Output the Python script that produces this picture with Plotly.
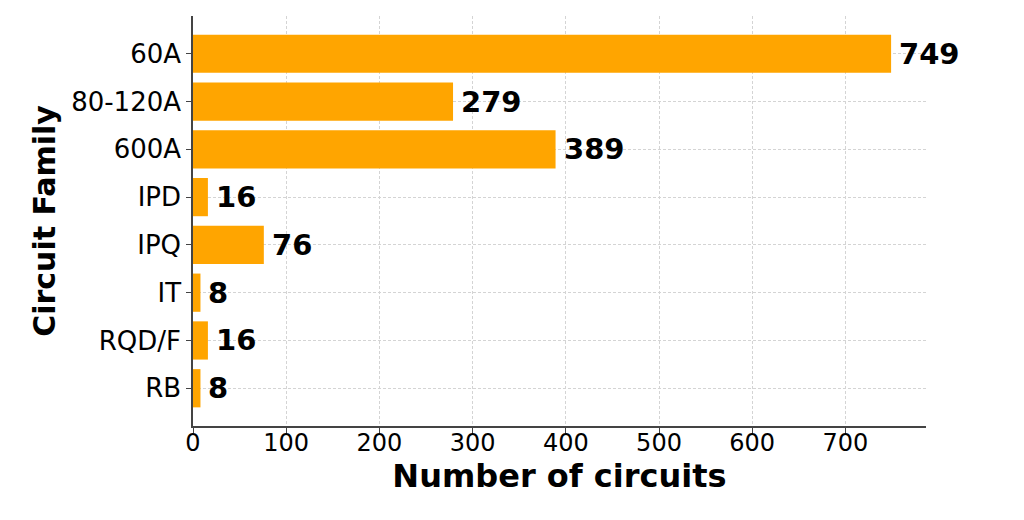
import plotly.graph_objects as go

categories = ["60A", "80-120A", "600A", "IPD", "IPQ", "IT", "RQD/F", "RB"]
counts = [749, 279, 389, 16, 76, 8, 16, 8]
x_ticks = [0, 100, 200, 300, 400, 500, 600, 700]

FONT = "DejaVu Sans"
BAR = "#FFA500"

fig = go.Figure()
fig.add_trace(go.Bar(
    x=counts, y=categories, orientation="h",
    marker=dict(color=BAR, line=dict(width=0)),
    width=0.8, hoverinfo="x+y",
))

for c, v in zip(categories, counts):
    fig.add_annotation(
        x=v, y=c, text=f"<b>{v}</b>", showarrow=False,
        xanchor="left", yanchor="middle", xshift=6,
        font=dict(family=FONT, size=29, color="black"),
    )

x_max = max(counts) * 1.05

fig.update_layout(
    width=1024, height=520,
    margin=dict(l=185, r=106, t=8, b=102),
    plot_bgcolor="white", paper_bgcolor="white",
    showlegend=False,
    font=dict(family=FONT, size=24, color="black"),
    bargap=0.2,
)
fig.update_xaxes(
    range=[0, x_max], tickvals=x_ticks, ticktext=[str(t) for t in x_ticks],
    showline=True, linecolor="#444", linewidth=1.5,
    ticks="outside", ticklen=5, tickcolor="#444",
    ticklabelstandoff=-11,
    showgrid=True, gridcolor="#d4d4d4", griddash="3px,2px", gridwidth=1,
    zeroline=False, automargin=False,
    tickfont=dict(family=FONT, size=24),
    title=dict(text="<b>Number of circuits</b>", font=dict(family=FONT, size=32), standoff=0),
)
fig.update_yaxes(
    categoryorder="array", categoryarray=categories,
    range=[7.79, -0.79],
    showline=True, linecolor="#444", linewidth=1.5,
    ticks="outside", ticklen=5, tickcolor="#444",
    showgrid=True, gridcolor="#d4d4d4", griddash="3px,2px", gridwidth=1,
    zeroline=False, automargin=False,
    tickfont=dict(family=FONT, size=26),
    title=dict(text="<b>Circuit Family</b>", font=dict(family=FONT, size=30), standoff=7),
)

fig.write_html("out.html")
